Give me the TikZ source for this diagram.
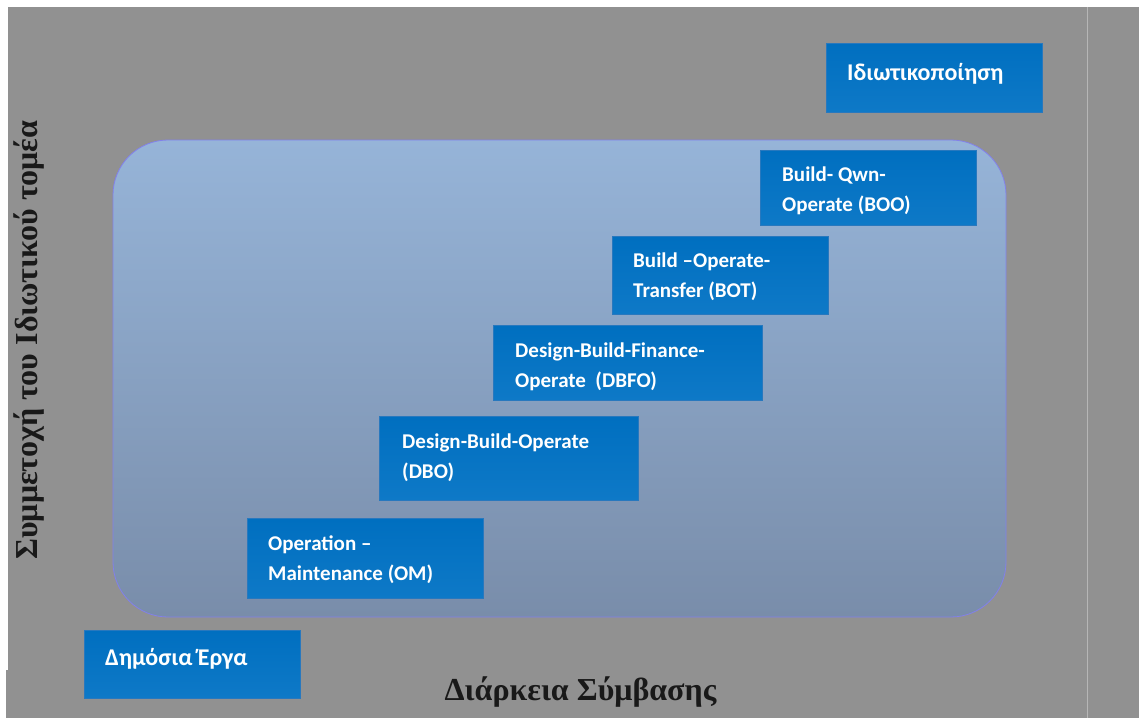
\documentclass[tikz,border=0pt]{standalone}
\usepackage{fontspec}
\setmainfont{Liberation Serif}
\newfontfamily\boxfont{Carlito}
\usetikzlibrary{calc}
\definecolor{bggray}{RGB}{145,145,145}
\definecolor{seamline}{RGB}{182,182,182}
\definecolor{boxtop}{RGB}{0,111,192}
\definecolor{boxbot}{RGB}{14,121,199}
\definecolor{boxline}{RGB}{40,120,190}
\definecolor{regtop}{RGB}{150,180,216}
\definecolor{regbot}{RGB}{121,141,170}
\definecolor{regline}{RGB}{130,128,235}
\begin{document}
\begin{tikzpicture}[x=1pt,y=-1pt,
  modelbox/.style={draw=boxline, line width=0.6pt, top color=boxtop, bottom color=boxbot,
    inner sep=0pt, anchor=north west},
  boxlabel/.style={text=white, font=\boxfont\bfseries\fontsize{21}{30}\selectfont,
    align=left, anchor=base west, inner sep=0pt},
  greeklabel/.style={boxlabel, font=\boxfont\bfseries\fontsize{24}{30}\selectfont},
  axislabel/.style={text=black!90, font=\bfseries\fontsize{32}{36}\selectfont, inner sep=0pt, anchor=base}]
\useasboundingbox (0,0) rectangle (1139,718);
\fill[white] (0,0) rectangle (1139,718);
\fill[bggray] (8,7) rectangle (1139,718);
\fill[bggray] (6,670) rectangle (8,718);
\draw[seamline, line width=1pt] (1087,7) -- (1087,718);

\draw[regline, line width=0.8pt, rounded corners=55pt, top color=regtop, bottom color=regbot]
  (113,140) rectangle (1006,617);

\node[modelbox, minimum width=216, minimum height=69] (priv) at (826,43) {};
\node[greeklabel] (privt) at ($(priv.north west)+(21,37)$) {Ιδιωτικοποίηση};

\node[modelbox, minimum width=216, minimum height=75] (boo) at (760,150) {};
\node[boxlabel] (boot) at ($(boo.north west)+(22,61)$) {Build- Qwn-\\Operate (BOO)};

\node[modelbox, minimum width=216, minimum height=78] (bot) at (612,236) {};
\node[boxlabel] (bott) at ($(bot.north west)+(21,61)$) {Build –Operate-\\Transfer (BOT)};

\node[modelbox, minimum width=269, minimum height=75] (dbfo) at (493,325) {};
\node[boxlabel] (dbfot) at ($(dbfo.north west)+(22,62)$) {Design-Build-Finance-\\Operate~ (DBFO)};

\node[modelbox, minimum width=259, minimum height=84] (dbo) at (379,416) {};
\node[boxlabel] (dbot) at ($(dbo.north west)+(23,62)$) {Design-Build-Operate\\(DBO)};

\node[modelbox, minimum width=236, minimum height=80] (om) at (247,518) {};
\node[boxlabel] (omt) at ($(om.north west)+(21,62)$) {Operation –\\Maintenance (OM)};

\node[modelbox, minimum width=216, minimum height=68] (pub) at (84,630) {};
\node[greeklabel] (pubt) at ($(pub.north west)+(21,35)$) {Δημόσια Έργα};

\node[axislabel] (xlab) at (580.5,700) {Διάρκεια Σύμβασης};
\node[axislabel, rotate=90] (ylab) at (37,340) {Συμμετοχή του Ιδιωτικού τομέα};
\end{tikzpicture}
\end{document}
